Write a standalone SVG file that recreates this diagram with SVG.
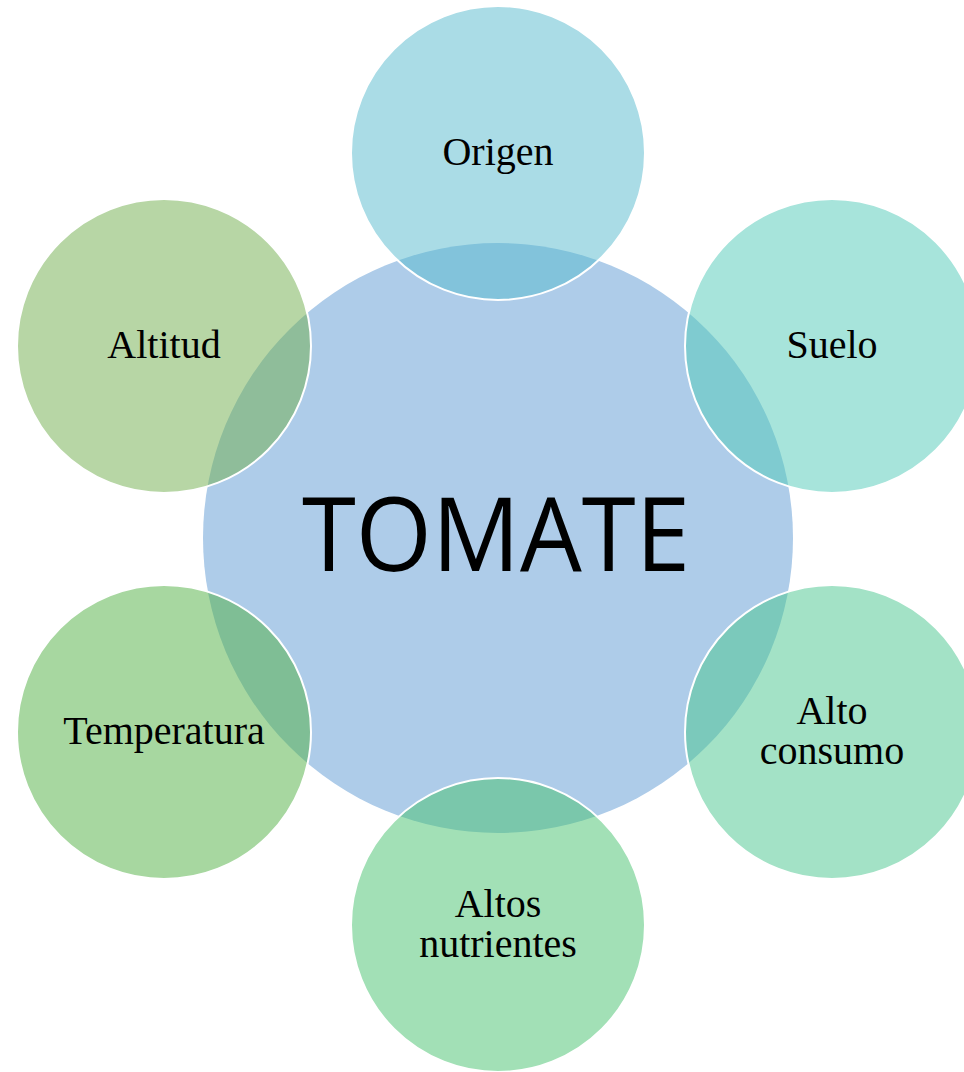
<svg xmlns="http://www.w3.org/2000/svg" width="964" height="1072" viewBox="0 0 964 1072">
  <style>
    .hub { fill: #aecce9; }
    .petal { fill-opacity: 0.5; stroke: #ffffff; stroke-width: 2; }
    .lbl { font-family: "Liberation Serif", "Times New Roman", serif; font-size: 40px; fill: #000000; text-anchor: middle; }
    .title { font-family: "Open Sans", "Liberation Sans", sans-serif; font-size: 102px; fill: #000000; text-anchor: middle; }
  </style>
  <rect width="964" height="1072" fill="#ffffff"/>

  <g id="tomate">
    <circle class="hub" cx="498" cy="538" r="295"/>
    <text class="title" x="496" y="571" textLength="388" lengthAdjust="spacingAndGlyphs">TOMATE</text>
  </g>

  <g id="connectors"></g>

  <g id="origen">
    <circle class="petal" cx="498" cy="153" r="147" fill="#55b9cd"/>
    <text class="lbl" x="498" y="165">Origen</text>
  </g>

  <g id="suelo">
    <circle class="petal" cx="832" cy="346" r="147" fill="#4fc9b7"/>
    <text class="lbl" x="832" y="358">Suelo</text>
  </g>

  <g id="alto-consumo">
    <circle class="petal" cx="832" cy="732" r="147" fill="#47c58d"/>
    <text class="lbl" x="832" y="724">Alto</text>
    <text class="lbl" x="832" y="764">consumo</text>
  </g>

  <g id="altos-nutrientes">
    <circle class="petal" cx="498" cy="925" r="147" fill="#45c16d"/>
    <text class="lbl" x="498" y="917">Altos</text>
    <text class="lbl" x="498" y="957">nutrientes</text>
  </g>

  <g id="temperatura">
    <circle class="petal" cx="164" cy="732" r="147" fill="#4faf41"/>
    <text class="lbl" x="164" y="744">Temperatura</text>
  </g>

  <g id="altitud">
    <circle class="petal" cx="164" cy="346" r="147" fill="#6fad4b"/>
    <text class="lbl" x="164" y="358">Altitud</text>
  </g>
</svg>
